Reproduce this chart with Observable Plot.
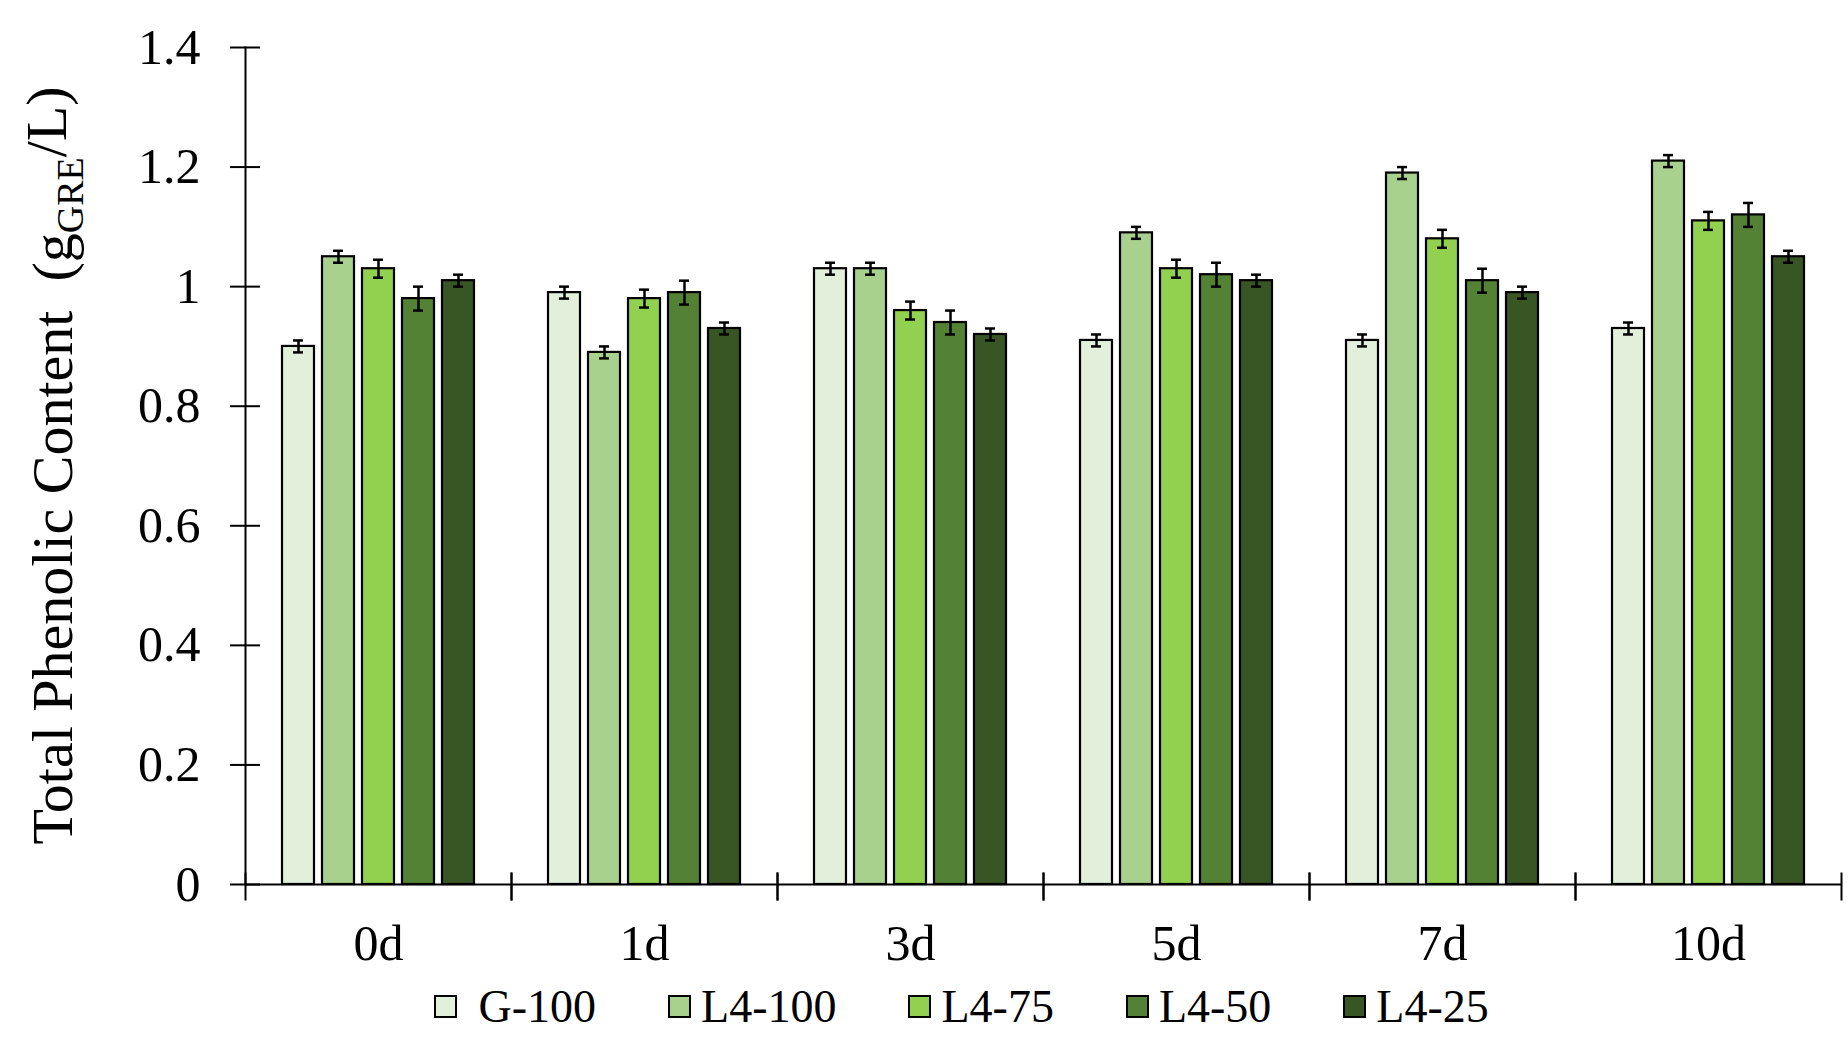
<!DOCTYPE html>
<html>
<head>
<meta charset="utf-8">
<script src="https://cdn.jsdelivr.net/npm/d3@7"></script>
<script src="https://cdn.jsdelivr.net/npm/@observablehq/plot@0.6"></script>
<style>
  html, body { margin: 0; padding: 0; background: #fff; overflow: hidden; }
  #chart svg { display: block; }
  #legend {
    display: flex; align-items: center; height: 62px;
    padding-left: 434px; font-family: "Liberation Serif", "Times New Roman", serif;
    font-size: 46px; color: #000;
  }
  .entry { display: flex; align-items: center; margin-right: 72px; white-space: pre; }
  .sw { width: 19px; height: 19px; border: 2px solid #000; margin-right: 10px; box-sizing: content-box; }
</style>
</head>
<body>
<div id="chart"></div>
<div id="legend"></div>
<script>
const days = ["0d", "1d", "3d", "5d", "7d", "10d"];
const series = ["G-100", "L4-100", "L4-75", "L4-50", "L4-25"];
const seriesColors = ["#E2EFDA", "#A9D18E", "#92D050", "#548235", "#375623"];

const g100 = [0.90, 0.99, 1.03, 0.91, 0.91, 0.93];
const l4_100 = [1.05, 0.89, 1.03, 1.09, 1.19, 1.21];
const l4_75 = [1.03, 0.98, 0.96, 1.03, 1.08, 1.11];
const l4_50 = [0.98, 0.99, 0.94, 1.02, 1.01, 1.12];
const l4_25 = [1.01, 0.93, 0.92, 1.01, 0.99, 1.05];

const g100Err = [0.01, 0.01, 0.01, 0.01, 0.01, 0.01];
const l4_100Err = [0.01, 0.01, 0.01, 0.01, 0.01, 0.01];
const l4_75Err = [0.015, 0.015, 0.015, 0.015, 0.015, 0.015];
const l4_50Err = [0.02, 0.02, 0.02, 0.02, 0.02, 0.02];
const l4_25Err = [0.01, 0.01, 0.01, 0.01, 0.01, 0.01];

const yTicks = [0, 0.2, 0.4, 0.6, 0.8, 1, 1.2, 1.4];

const values = [g100, l4_100, l4_75, l4_50, l4_25];
const errors = [g100Err, l4_100Err, l4_75Err, l4_50Err, l4_25Err];
const data = [];
days.forEach((day, i) => {
  series.forEach((s, j) => {
    data.push({day, series: s, value: values[j][i], err: errors[j][i]});
  });
});

const font = '"Liberation Serif", "Times New Roman", serif';

const boundaryTick = {
  draw(context) { context.moveTo(0, -12); context.lineTo(0, 16); }
};

const plot = Plot.plot({
  width: 1848,
  height: 975,
  marginLeft: 245,
  marginRight: 7,
  marginTop: 47,
  marginBottom: 91,
  style: {fontFamily: font, color: "#000", background: "transparent", overflow: "visible"},
  fx: {domain: days, padding: 0, axis: null},
  x: {domain: series, paddingInner: 0.2, paddingOuter: 0.85, axis: null},
  y: {domain: [0, 1.4], axis: null},
  color: {domain: series, range: seriesColors},
  marks: [
    Plot.barY(data, {fx: "day", x: "series", y: "value", fill: "series", stroke: "#000", strokeWidth: 2.2}),
    Plot.ruleX(data, {fx: "day", x: "series", y1: d => d.value - d.err, y2: d => d.value + d.err, stroke: "#000", strokeWidth: 2.5}),
    Plot.tickY(data, {fx: "day", x: "series", y: d => d.value - d.err, insetLeft: 11, insetRight: 11, stroke: "#000", strokeWidth: 2.5}),
    Plot.tickY(data, {fx: "day", x: "series", y: d => d.value + d.err, insetLeft: 11, insetRight: 11, stroke: "#000", strokeWidth: 2.5}),
    Plot.ruleY([0], {stroke: "#000", strokeWidth: 2}),
    Plot.dot(days, {fx: d => d, frameAnchor: "bottom-left", symbol: boundaryTick, fill: "none", stroke: "#000", strokeWidth: 2}),
    Plot.dot(days, {fx: d => d, frameAnchor: "bottom-right", symbol: boundaryTick, fill: "none", stroke: "#000", strokeWidth: 2}),
    Plot.frame({anchor: "left", facetAnchor: "left", stroke: "#000", strokeWidth: 2}),
    Plot.axisY({ticks: yTicks, tickSize: 15, tickPadding: 30, tickFormat: d3.format("~g"), fontSize: 50, label: null, strokeWidth: 2}),
    Plot.axisY({ticks: yTicks, tickSize: 15, dx: 15, tickFormat: () => "", label: null, strokeWidth: 2}),
    Plot.axisFx({anchor: "bottom", tickSize: 0, tickPadding: 40, fontSize: 50, label: null})
  ]
});

document.getElementById("chart").appendChild(plot);

// Y-axis title with subscript
const yScale = plot.scale("y");
const yMid = yScale.apply(0.7);
const label = d3.select(plot).append("text")
  .attr("transform", `translate(72, ${yMid}) rotate(-90)`)
  .attr("text-anchor", "middle")
  .attr("font-family", font)
  .attr("font-size", 58)
  .attr("fill", "#000");
label.append("tspan").text("Total Phenolic Content  (g");
label.append("tspan").attr("font-size", 38).attr("dy", "0.3em").text("GRE");
label.append("tspan").attr("dy", "-0.3em").text("/L)");

// Legend
const legend = d3.select("#legend");
series.forEach((s, i) => {
  const e = legend.append("div").attr("class", "entry");
  e.append("div").attr("class", "sw").style("background", seriesColors[i]);
  e.append("span").text(i === 0 ? " " + s : s);
});
</script>
</body>
</html>
